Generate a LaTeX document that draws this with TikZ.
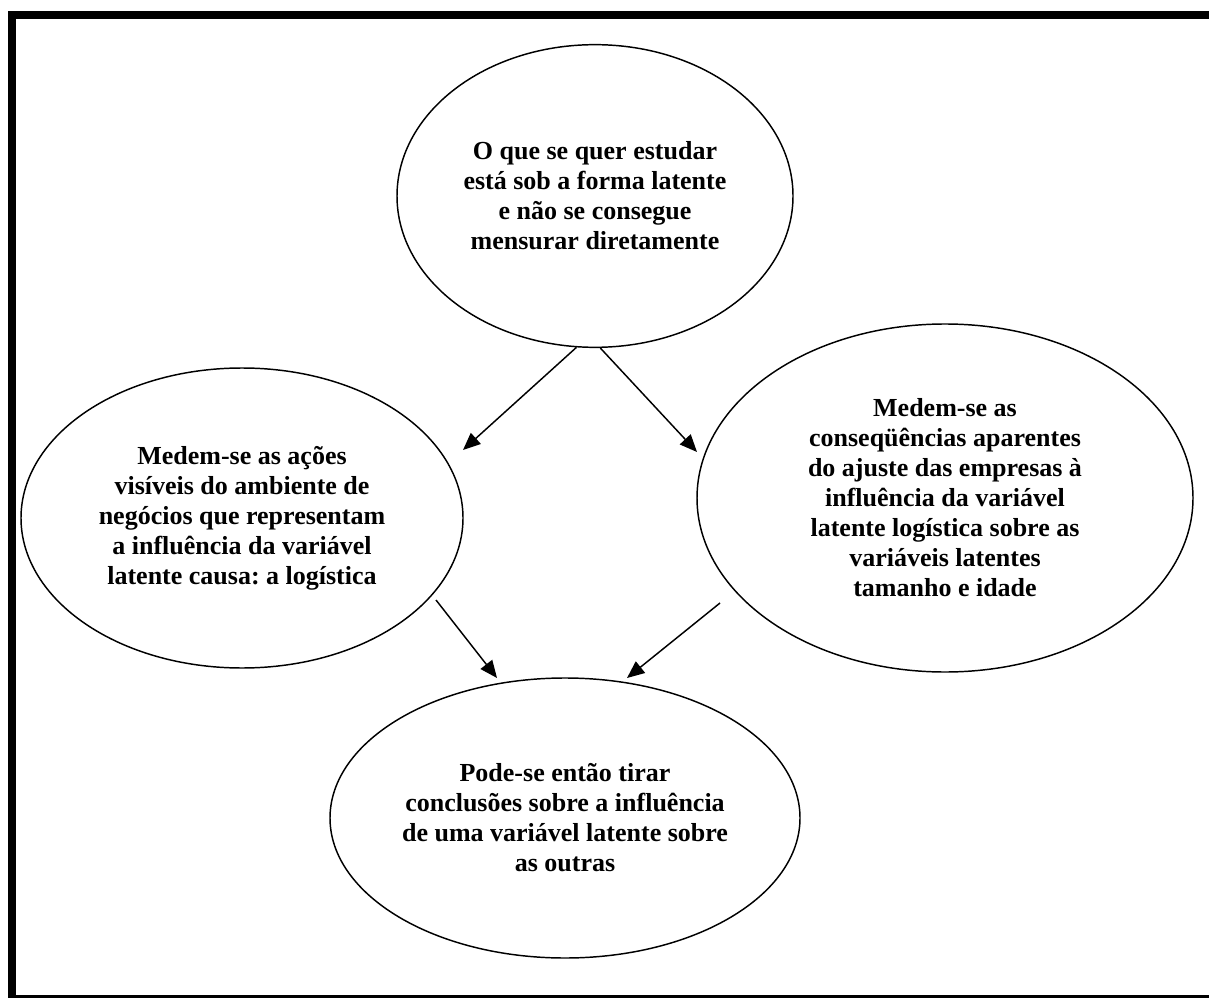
\documentclass[tikz,border=0pt]{standalone}
\usepackage{fontspec}
\setmainfont{Liberation Serif}
\usetikzlibrary{arrows.meta,shapes.geometric}
\frenchspacing
\begin{document}
\begin{tikzpicture}[x=0.75pt,y=-0.75pt,every node/.style={font=\fontsize{19.5}{22.5}\selectfont\bfseries,align=center,inner sep=0},
  bolha/.style={draw,ellipse,line width=1.1pt},
  seta/.style={-{Triangle[length=13pt,width=11pt]},line width=1.1pt}]
\useasboundingbox (0,0) rectangle (1209,998);
\clip (0,0) rectangle (1209,998);
\draw[line width=6pt] (12,15) rectangle (1230,999);
\node[bolha,minimum width=297pt,minimum height=227pt] (latente) at (595,196) {O que se quer estudar\\está sob a forma latente\\e não se consegue\\mensurar diretamente};
\node[bolha,minimum width=331.5pt,minimum height=225pt] (causa) at (242,518) {Medem-se as ações\\visíveis do ambiente de\\negócios que representam\\a influência da variável\\latente causa: a logística};
\node[bolha,minimum width=372pt,minimum height=261pt] (efeito) at (945,498) {Medem-se as\\conseqüências aparentes\\do ajuste das empresas à\\influência da variável\\latente logística sobre as\\variáveis latentes\\tamanho e idade};
\node[bolha,minimum width=352.5pt,minimum height=210pt] (conclusao) at (565,818) {Pode-se então tirar\\conclusões sobre a influência\\de uma variável latente sobre\\as outras};
% pontas das setas
\coordinate (p1) at (463,450);
\coordinate (p2) at (697,452);
\coordinate (q1) at (436,600);
\coordinate (q2) at (720,603);
\coordinate (p3) at (497,678);
\coordinate (p4) at (627,678);
\draw[seta] (latente.-97) -- (p1);
\draw[seta] (latente.-88) -- (p2);
\draw[seta] (q1) -- (p3);
\draw[seta] (q2) -- (p4);
\end{tikzpicture}
\end{document}
